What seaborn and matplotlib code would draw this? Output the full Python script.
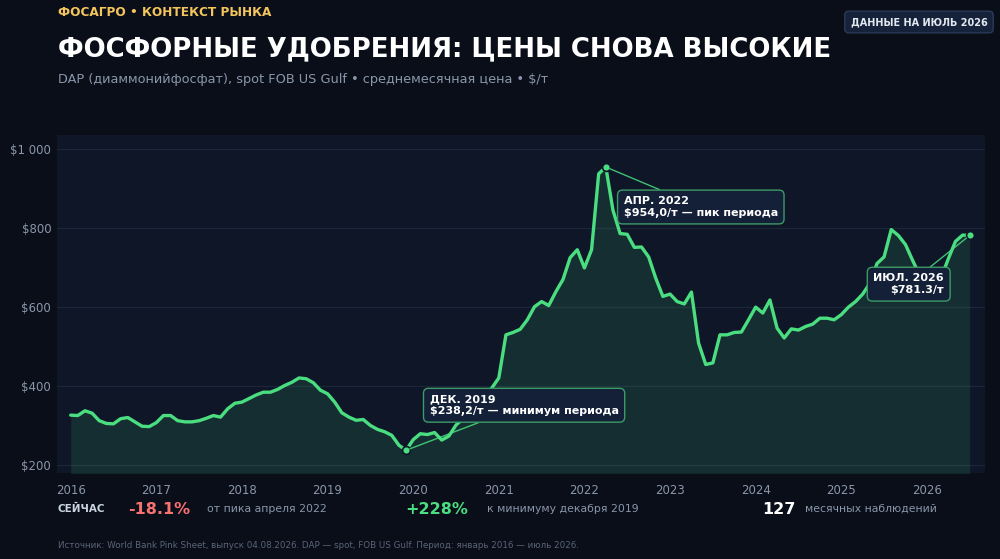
import numpy as np
import pandas as pd
import matplotlib.pyplot as plt
import seaborn as sns

# ДАННЫЕ: DAP spot FOB US Gulf, $/т, январь 2016 - июль 2026
prices_2016 = [327, 326, 338, 332, 313, 306, 305, 318, 321, 310, 299, 298]
prices_2017 = [308, 326, 326, 313, 310, 310, 313, 319, 326, 322, 343, 357]
prices_2018 = [360, 369, 378, 385, 385, 392, 402, 410, 421, 419, 409, 390]
prices_2019 = [381, 360, 333, 322, 314, 316, 301, 291, 285, 276, 251, 238.2]
prices_2020 = [265, 280, 278, 283, 264, 274, 302, 318, 335, 355, 375, 395]
prices_2021 = [421, 530, 536, 544, 568, 601, 614, 604, 639, 670, 725, 745]
prices_2022 = [699, 745, 937, 954.0, 845, 786, 784, 751, 752, 727, 673, 627]
prices_2023 = [633, 614, 608, 638, 509, 455, 459, 530, 530, 536, 537, 568]
prices_2024 = [600, 585, 618, 547, 522, 545, 542, 551, 557, 572, 572, 568]
prices_2025 = [581, 600, 614, 633, 660, 710, 727, 796, 781, 758, 718, 680]
prices_2026 = [655, 650, 675, 722, 766, 782, 781.3]

years = ["2016", "2017", "2018", "2019", "2020", "2021",
         "2022", "2023", "2024", "2025", "2026"]
y_ticks = [200, 400, 600, 800, 1000]
y_labels = ["$200", "$400", "$600", "$800", "$1 000"]

prices = (prices_2016 + prices_2017 + prices_2018 + prices_2019 + prices_2020
          + prices_2021 + prices_2022 + prices_2023 + prices_2024 + prices_2025
          + prices_2026)
df = pd.DataFrame({"month": np.arange(len(prices)), "price": prices})

# ЦВЕТА
BG = "#090e19"
PANEL = "#0e1627"
GREEN = "#4ade80"
GRID = "#1c2638"
MUTED = "#8a96aa"
BOX = "#132038"

sns.set_theme(style="dark", rc={
    "figure.facecolor": BG,
    "axes.facecolor": PANEL,
    "axes.edgecolor": PANEL,
    "grid.color": GRID,
    "text.color": "white",
    "xtick.color": MUTED,
    "ytick.color": MUTED,
})
plt.rcParams["font.family"] = ["DejaVu Sans"]

fig = plt.figure(figsize=(10, 5.59), dpi=100)
ax = fig.add_axes([0.0567, 0.1533, 0.928, 0.6052])

# линия + заливка
sns.lineplot(data=df, x="month", y="price", ax=ax, color=GREEN,
             linewidth=2.4, zorder=3)
ax.fill_between(df["month"], df["price"], 170, color=GREEN, alpha=0.12,
                linewidth=0, zorder=2)

ax.set_xlim(-1.96, 128.1)
ax.set_ylim(180, 1035)
ax.set_xticks(np.arange(0, 12 * len(years), 12))
ax.set_xticklabels(years, fontsize=8.5)
ax.set_yticks(y_ticks)
ax.set_yticklabels(y_labels, fontsize=8.5)
ax.tick_params(axis="both", length=0)
ax.tick_params(axis="x", pad=8)
ax.tick_params(axis="y", pad=4)
ax.grid(axis="y", color=GRID, linewidth=0.9)
ax.grid(axis="x", visible=False)
ax.set_xlabel("")
ax.set_ylabel("")
for s in ax.spines.values():
    s.set_visible(False)

# ключевые точки
i_min = int(np.argmin(prices))
i_max = int(np.argmax(prices))
i_last = len(prices) - 1
key = df.iloc[[i_min, i_max, i_last]]
ax.scatter(key["month"], key["price"], s=32, color=GREEN, edgecolor=PANEL,
           linewidth=1.2, zorder=6)

box_style = dict(boxstyle="round,pad=0.55,rounding_size=0.45", fc=BOX,
                 ec="#3d9a68", lw=1)
line_style = dict(arrowstyle="-", color=GREEN, lw=1, alpha=0.85,
                  shrinkA=0, shrinkB=3)

ax.annotate("ДЕК. 2019\n$238,2/т — минимум периода",
            xy=(i_min, prices[i_min]), xytext=(50.3, 352),
            ha="left", va="center", fontsize=8, fontweight="bold",
            color="white", bbox=box_style, arrowprops=line_style, zorder=7)
ax.annotate("АПР. 2022\n$954,0/т — пик периода",
            xy=(i_max, prices[i_max]), xytext=(77.5, 853),
            ha="left", va="center", fontsize=8, fontweight="bold",
            color="white", bbox=box_style, arrowprops=line_style, zorder=7)
ax.annotate("ИЮЛ. 2026\n$781.3/т",
            xy=(i_last, prices[i_last]), xytext=(122.4, 658),
            ha="right", va="center", multialignment="right", fontsize=8,
            fontweight="bold", color="white", bbox=box_style,
            arrowprops=line_style, zorder=7)

# ЗАГОЛОВКИ
def fy(px):
    return 1 - px / 559

fig.text(0.058, fy(12), "ФОСАГРО • КОНТЕКСТ РЫНКА", fontsize=8.7,
         fontweight="bold", color="#f4c55c", va="center")
fig.text(0.058, fy(49), "ФОСФОРНЫЕ УДОБРЕНИЯ: ЦЕНЫ СНОВА ВЫСОКИЕ",
         fontsize=18.75, fontweight="bold", color="white", va="center")
fig.text(0.058, fy(79),
         "DAP (диаммонийфосфат), spot FOB US Gulf • среднемесячная цена • $/т",
         fontsize=9.3, color=MUTED, va="center")
fig.text(0.919, fy(22), "ДАННЫЕ НА ИЮЛЬ 2026", fontsize=7,
         fontweight="bold", color="#e2e8f0", ha="center", va="center",
         bbox=dict(boxstyle="round,pad=0.6,rounding_size=0.4", fc="#15223a",
                   ec="#2a3b58", lw=1))

# СТРОКА ПОКАЗАТЕЛЕЙ
chg_peak = (prices[i_last] / prices[i_max] - 1) * 100
chg_min = (prices[i_last] / prices[i_min] - 1) * 100
row = fy(509)
fig.text(0.058, row, "СЕЙЧАС", fontsize=7.5, fontweight="bold",
         color="#cbd5e1", va="center")
fig.text(0.128, row, f"{chg_peak:.1f}%", fontsize=11.5, fontweight="bold",
         color="#f87171", va="center")
fig.text(0.207, row, "от пика апреля 2022", fontsize=7.8, color=MUTED,
         va="center")
fig.text(0.405, row, f"+{chg_min:.0f}%", fontsize=11.5, fontweight="bold",
         color=GREEN, va="center")
fig.text(0.487, row, "к минимуму декабря 2019", fontsize=7.8, color=MUTED,
         va="center")
fig.text(0.762, row, f"{len(prices)}", fontsize=11.5, fontweight="bold",
         color="white", va="center")
fig.text(0.805, row, "месячных наблюдений", fontsize=7.8, color=MUTED,
         va="center")

fig.text(0.058, fy(546),
         "Источник: World Bank Pink Sheet, выпуск 04.08.2026. DAP — spot, "
         "FOB US Gulf. Период: январь 2016 — июль 2026.",
         fontsize=6.3, color="#5a6477", va="center")

fig.savefig("out.png", dpi=100, facecolor=BG)
